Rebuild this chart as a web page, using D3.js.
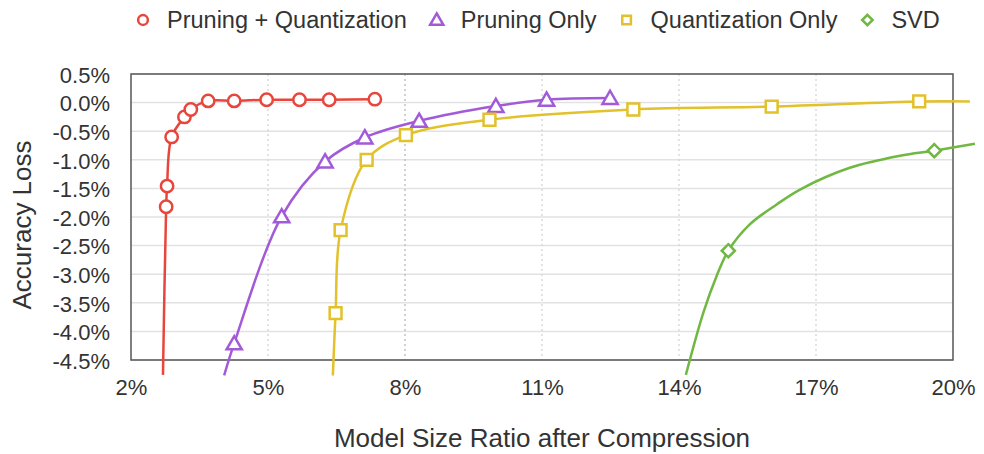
<!DOCTYPE html>
<html>
<head>
<meta charset="utf-8">
<script src="https://cdn.jsdelivr.net/npm/d3@7"></script>
<style>
  html, body { margin: 0; padding: 0; background: #fff; }
  svg { display: block; font-family: "Liberation Sans", Arial, Helvetica, sans-serif; }
</style>
</head>
<body>
<svg id="chart" width="984" height="454"></svg>
<script>
// ---------- Data ----------
const seriesNames = ["Pruning + Quantization", "Pruning Only", "Quantization Only", "SVD"];

// Pruning + Quantization markers
const pqX = [2.77, 2.79, 2.89, 3.17, 3.31, 3.69, 4.26, 4.97, 5.69, 6.34, 7.34];
const pqY = [-1.82, -1.46, -0.60, -0.25, -0.12, 0.03, 0.03, 0.05, 0.05, 0.05, 0.06];
// curve continues below the axis before the first marker
const pqTailX = [2.70];
const pqTailY = [-4.76];

// Pruning Only markers
const prX = [4.26, 5.30, 6.25, 7.12, 8.31, 9.99, 11.10, 12.49];
const prY = [-4.21, -1.99, -1.03, -0.61, -0.32, -0.06, 0.05, 0.08];
const prTailX = [4.04];
const prTailY = [-4.77];

// Quantization Only markers
const qX = [6.48, 6.59, 7.16, 8.02, 9.85, 13.0, 16.03, 19.26];
const qY = [-3.68, -2.23, -1.00, -0.57, -0.30, -0.12, -0.07, 0.02];
const qTailX = [6.42];
const qTailY = [-4.77];
const qEndX = [20.37];
const qEndY = [0.02];

// SVD markers
const svdX = [15.08, 19.59];
const svdY = [-2.59, -0.84];
// SVD drawn curve
const svdCurveX = [14.15, 14.53, 14.82, 15.08, 15.55, 16.14, 16.65, 17.74, 18.84, 19.59, 20.48];
const svdCurveY = [-4.76, -3.68, -3.04, -2.59, -2.13, -1.78, -1.52, -1.14, -0.93, -0.84, -0.72];

const xTicks = [2, 5, 8, 11, 14, 17, 20];
const yTicks = [0.5, 0.0, -0.5, -1.0, -1.5, -2.0, -2.5, -3.0, -3.5, -4.0, -4.5];
const xGridTicks = [5, 8, 11, 14, 17];

const xTitle = "Model Size Ratio after Compression";
const yTitle = "Accuracy Loss";

// ---------- Build ----------
const colors = ["#e8453c", "#a35ad8", "#e2c12a", "#70b842"];
const shapes = ["circle", "triangle", "square", "diamond"];

const zip = (xs, ys) => xs.map((v, i) => [v, ys[i]]);
const series = [
  { name: seriesNames[0], markers: zip(pqX, pqY), line: zip(pqTailX, pqTailY).concat(zip(pqX, pqY)) },
  { name: seriesNames[1], markers: zip(prX, prY), line: zip(prTailX, prTailY).concat(zip(prX, prY)) },
  { name: seriesNames[2], markers: zip(qX, qY), line: zip(qTailX, qTailY).concat(zip(qX, qY), zip(qEndX, qEndY)) },
  { name: seriesNames[3], markers: zip(svdX, svdY), line: zip(svdCurveX, svdCurveY) }
];

const svg = d3.select("#chart");
const plot = { left: 131, right: 953, top: 74, bottom: 360 };

const x = d3.scaleLinear().domain([2, 20]).range([plot.left, plot.right]);
const y = d3.scaleLinear().domain([-4.5, 0.5]).range([plot.bottom, plot.top]);

// horizontal grid
svg.append("g").selectAll("line").data(yTicks).join("line")
  .attr("x1", plot.left).attr("x2", plot.right)
  .attr("y1", d => y(d)).attr("y2", d => y(d))
  .attr("stroke", "#e2e2e2").attr("stroke-width", 1.5);

// vertical dotted grid
svg.append("g").selectAll("line").data(xGridTicks).join("line")
  .attr("x1", d => x(d)).attr("x2", d => x(d))
  .attr("y1", plot.top).attr("y2", plot.bottom)
  .attr("stroke", d => d === 8 ? "#b8b8b8" : "#d4d4d4")
  .attr("stroke-width", 1.3)
  .attr("stroke-dasharray", "2,3");

// frame
svg.append("rect")
  .attr("x", plot.left).attr("y", plot.top)
  .attr("width", plot.right - plot.left).attr("height", plot.bottom - plot.top)
  .attr("fill", "none").attr("stroke", "#555").attr("stroke-width", 1.5);

// axes
const yAxis = svg.append("g")
  .attr("transform", `translate(${plot.left},0)`)
  .call(d3.axisLeft(y).tickValues(yTicks).tickFormat(d => d.toFixed(1) + "%").tickSize(0).tickPadding(21));
const xAxis = svg.append("g")
  .attr("transform", `translate(0,${plot.bottom})`)
  .call(d3.axisBottom(x).tickValues(xTicks).tickFormat(d => d + "%").tickSize(0).tickPadding(19));
[yAxis, xAxis].forEach(a => {
  a.select(".domain").remove();
  a.selectAll("text").attr("font-size", 22).attr("fill", "#333")
    .attr("font-family", '"Liberation Sans", Arial, sans-serif');
});
yAxis.selectAll("text").attr("dy", "0.38em");

// axis titles
svg.append("text")
  .attr("x", (plot.left + plot.right) / 2 + 0).attr("y", 447)
  .attr("text-anchor", "middle").attr("font-size", 26).attr("fill", "#333")
  .text(xTitle);
svg.append("text")
  .attr("transform", `translate(31,${(plot.top + plot.bottom) / 2 + 8}) rotate(-90)`)
  .attr("text-anchor", "middle").attr("font-size", 26).attr("fill", "#333")
  .text(yTitle);

// symbols
function symbolPath(shape, size) {
  const t = { circle: d3.symbolCircle, triangle: d3.symbolTriangle, square: d3.symbolSquare, diamond: d3.symbolDiamond2 }[shape];
  return d3.symbol().type(t).size(size)();
}
const markerSize = { circle: 120, triangle: 100, square: 140, diamond: 110 };

const lineGen = d3.line().x(d => x(d[0])).y(d => y(d[1])).curve(d3.curveCatmullRom.alpha(0.5));

series.forEach((s, i) => {
  svg.append("path").datum(s.line)
    .attr("d", lineGen)
    .attr("fill", "none").attr("stroke", colors[i]).attr("stroke-width", 2.5);
});
series.forEach((s, i) => {
  svg.append("g").selectAll("path").data(s.markers).join("path")
    .attr("transform", d => `translate(${x(d[0])},${y(d[1]) + (shapes[i] === "triangle" ? 1.5 : 0)})`)
    .attr("d", symbolPath(shapes[i], markerSize[shapes[i]]))
    .attr("fill", "#fff").attr("stroke", colors[i]).attr("stroke-width", 2.5);
});

// legend
const legend = svg.append("g");
let lx = 143;
const ly = 20;
series.forEach((s, i) => {
  legend.append("path")
    .attr("transform", `translate(${lx},${ly + (shapes[i] === "triangle" ? 1 : 0)})`)
    .attr("d", symbolPath(shapes[i], shapes[i] === "diamond" ? 70 : 75))
    .attr("fill", "#fff").attr("stroke", colors[i]).attr("stroke-width", 2.5);
  const t = legend.append("text")
    .attr("x", lx + 24).attr("y", ly).attr("dy", "0.36em")
    .attr("font-size", 23.5).attr("fill", "#333")
    .text(s.name);
  lx = lx + 24 + t.node().getComputedTextLength() + 30;
});
</script>
</body>
</html>
